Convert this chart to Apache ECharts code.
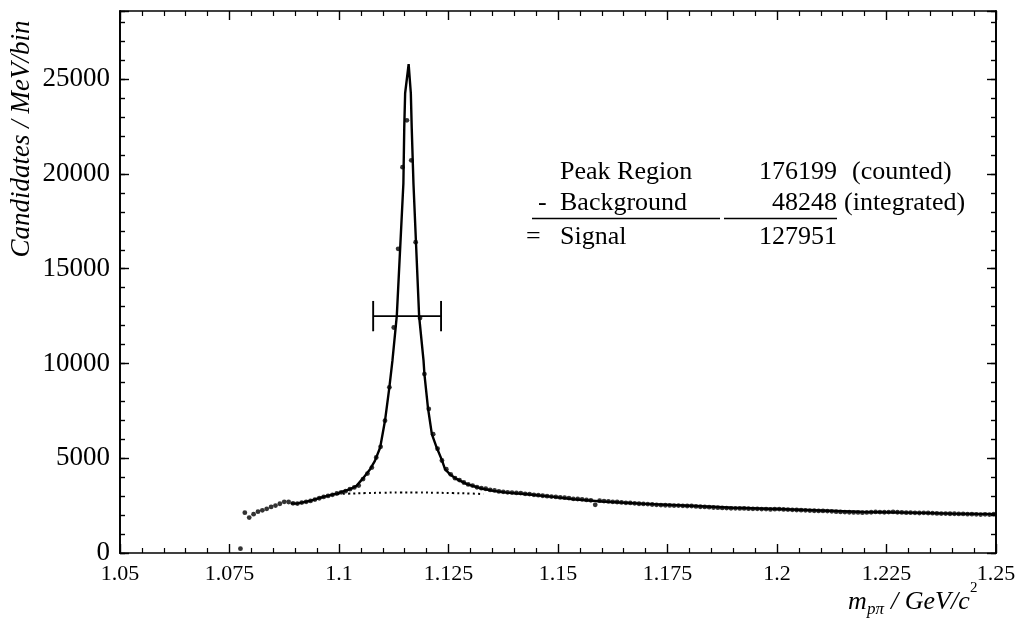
<!DOCTYPE html>
<html>
<head>
<meta charset="utf-8">
<script src="https://cdn.jsdelivr.net/npm/echarts@6/dist/echarts.min.js"></script>
<style>
html,body{margin:0;padding:0;background:#fff;}
#chart{width:1021px;height:627px;}
</style>
</head>
<body>
<div id="chart"></div>
<script>
// ---------- data ----------
const BIN_START = 1.0775;   // first bin centre, GeV/c^2
const BIN_WIDTH = 0.001;    // 1 MeV bins
const counts = [
  230,
  2130,1870,2050,2180,2250,2330,2430,2500,2600,2700,   // 1.0785 - 1.0875
  2690,2620,2610,2660,2700,2750,2820,2890,2960,3010,   // 1.0885 - 1.0975
  3070,3140,3200,3260,3370,3460,3560,3900,4190,4510,   // 1.0985 - 1.1075
  5040,5600,6980,8740,11900,16050,20360,22830,20720,16400, // 1.1085 - 1.1175
  12400,9440,7600,6270,5500,4880,4420,4150,3950,3850,  // 1.1185 - 1.1275
  3720,3620,3560,3470,3420,3390,3330,3300,3250,3230,   // 1.1285 - 1.1375
  3200,3190,3170,3160,3120,3110,3070,3050,3020,3000,   // 1.1385 - 1.1475
  2980,2960,2930,2920,2900,2860,2850,2830,2800,2780,   // 1.1485 - 1.1575
  2540,2760,2740,2720,2700,2690,2670,2650,2640,2620,   // 1.1585 - 1.1675
  2600,2590,2580,2560,2540,2530,2520,2510,2500,2500,   // 1.1685 - 1.1775
  2490,2480,2480,2460,2440,2430,2420,2400,2390,2380,   // 1.1785 - 1.1875
  2370,2360,2360,2350,2350,2340,2330,2330,2320,2320,   // 1.1885 - 1.1975
  2300,2310,2320,2300,2290,2280,2270,2260,2250,2240,   // 1.1985 - 1.2075
  2230,2220,2220,2210,2200,2180,2170,2160,2150,2140,   // 1.2085 - 1.2175
  2140,2130,2140,2150,2170,2160,2150,2160,2170,2150,   // 1.2185 - 1.2275
  2140,2130,2130,2120,2110,2120,2110,2100,2090,2080,   // 1.2285 - 1.2375
  2080,2070,2070,2060,2060,2050,2050,2040,2030,2040,   // 1.2385 - 1.2475
  2030,2050                                            // 1.2485 - 1.2495
];

// fitted curve (signal + background)
const fitMass  = [1.0890,1.0903,1.0934,1.0964,1.0995,1.1025,1.1040,1.1055,1.1071,1.1082,
                  1.1094,1.1105,1.1115,1.1122,1.1132,1.1147,1.1149,1.1151,1.1159,1.1164,
                  1.1166,1.1170,1.1183,1.1193,1.1195,1.1203,1.1212,1.1223,1.1235,1.1242,
                  1.1253,1.1269,1.1292,1.1322,1.1352,1.1383,1.1429,1.1489,1.1535,1.1600,
                  1.1700,1.1800,1.1900,1.2000,1.2100,1.2200,1.2300,1.2400,1.2500];
const fitValue = [2620,2606,2748,2960,3134,3366,3541,3950,4423,4862,
                  5565,6976,8736,10150,12525,19500,22460,24260,25800,24260,
                  22460,19500,12470,10150,9444,7679,6273,5565,4899,4423,
                  4159,3895,3631,3419,3277,3187,3102,2960,2838,2720,
                  2590,2490,2390,2320,2240,2160,2130,2080,2050];

// background under the peak (dotted)
const bgMass  = [1.0985,1.1020,1.1060,1.1100,1.1140,1.1180,1.1220,1.1260,1.1300,1.1330];
const bgValue = [3100,3130,3160,3180,3190,3190,3180,3160,3140,3110];

// peak-region bar
const barLeft = 1.1078, barRight = 1.1233, barLevel = 12500, barCapHalf = 800;

// axes
const X_MIN = 1.05, X_MAX = 1.25, X_STEP = 0.025;
const Y_MIN = 0, Y_MAX = 28600, Y_STEP = 5000, Y_MINOR = 1000;

// annotation table
const tableLabels = ['Peak Region', 'Background', 'Signal'];
const tableOps    = ['', '-', '='];
const tableValues = ['176199', '48248', '127951'];
const tableNotes  = ['(counted)', '(integrated)', ''];

// ---------- build ----------
const dataPts = counts.map((v, i) => [+(BIN_START + i * BIN_WIDTH).toFixed(4), v]);
const fitPts = fitMass.map((m, i) => [m, fitValue[i]]);
const bgPts = bgMass.map((m, i) => [m, bgValue[i]]);

const FONT = 'Liberation Serif';
const AX = { color: '#000', width: 1.7 };

function xAxisDef(pos, labels) {
  return {
    type: 'value', position: pos, min: X_MIN, max: X_MAX, interval: X_STEP,
    axisLine: { show: true, onZero: false, lineStyle: AX },
    axisTick: { show: true, inside: true, length: 9, lineStyle: { color: '#000', width: 1.4 } },
    minorTick: { show: true, splitNumber: 5, length: 5, lineStyle: { color: '#000', width: 1.2 } },
    splitLine: { show: false },
    axisLabel: labels ? {
      show: true, margin: 10, color: '#000', fontFamily: FONT, fontSize: 22,
      formatter: v => String(+(+v).toFixed(3))
    } : { show: false }
  };
}
function yAxisDef(pos, step, tickLen, labels) {
  return {
    type: 'value', position: pos, min: Y_MIN, max: Y_MAX, interval: step,
    axisLine: { show: true, onZero: false, lineStyle: AX },
    axisTick: { show: true, inside: true, length: tickLen, lineStyle: { color: '#000', width: 1.4 } },
    splitLine: { show: false },
    axisLabel: labels ? {
      show: true, margin: 10, color: '#000', fontFamily: FONT, fontSize: 27,
      formatter: v => (v % Y_STEP === 0 ? String(v) : '')
    } : { show: false }
  };
}

function txt(x, y, text, size, align, italic) {
  return {
    type: 'text', x: x, y: y, z: 100,
    style: {
      text: text, fill: '#000', fontFamily: FONT, fontSize: size,
      fontStyle: italic ? 'italic' : 'normal',
      textAlign: align, textVerticalAlign: 'middle'
    }
  };
}

const rowY = [172, 203, 237];
const graphics = [];
tableLabels.forEach((lab, i) => {
  if (tableOps[i]) graphics.push(txt(i === 2 ? 526 : 538, rowY[i], tableOps[i], 26, 'left'));
  graphics.push(txt(560, rowY[i], lab, 26, 'left'));
  graphics.push(txt(837, rowY[i], tableValues[i], 26, 'right'));
  if (tableNotes[i]) graphics.push(txt(i === 0 ? 852 : 844, rowY[i], tableNotes[i], 26, 'left'));
});
graphics.push({ type: 'line', z: 100, shape: { x1: 532, y1: 218.5, x2: 720, y2: 218.5 }, style: { stroke: '#000', lineWidth: 1.7 } });
graphics.push({ type: 'line', z: 100, shape: { x1: 724, y1: 218.5, x2: 837, y2: 218.5 }, style: { stroke: '#000', lineWidth: 1.7 } });
// axis titles
graphics.push({
  type: 'text', x: 22, y: 139, rotation: Math.PI / 2, z: 100,
  style: { text: 'Candidates / MeV/bin', fill: '#000', fontFamily: FONT, fontSize: 27,
           fontStyle: 'italic', textAlign: 'center', textVerticalAlign: 'middle' }
});
graphics.push(txt(848, 602, 'm', 26, 'left', true));
graphics.push(txt(867, 610, 'pπ', 17, 'left', true));
graphics.push(txt(891, 602, '/ GeV/c', 26, 'left', true));
graphics.push(txt(970, 588, '2', 15, 'left', false));

const option = {
  backgroundColor: '#fff',
  animation: false,
  grid: { left: 120, right: 25, top: 11, bottom: 74, containLabel: false },
  xAxis: [xAxisDef('bottom', true), xAxisDef('top', false)],
  yAxis: [
    yAxisDef('left', Y_STEP, 9, true),
    yAxisDef('left', Y_MINOR, 5, false),
    yAxisDef('right', Y_STEP, 9, false),
    yAxisDef('right', Y_MINOR, 5, false)
  ],
  graphic: graphics,
  series: [
    {
      type: 'line', data: fitPts, xAxisIndex: 0, yAxisIndex: 0,
      showSymbol: false, smooth: false,
      lineStyle: { color: '#000', width: 2.4 }, z: 3
    },
    {
      type: 'line', data: bgPts, xAxisIndex: 0, yAxisIndex: 0,
      showSymbol: false, smooth: true,
      lineStyle: { color: '#000', width: 2, type: [2, 3.2] }, z: 3
    },
    {
      type: 'scatter', data: dataPts, xAxisIndex: 0, yAxisIndex: 0,
      symbol: 'circle', symbolSize: 4.8, itemStyle: { color: '#000' }, z: 4
    },
    {
      type: 'line', data: [[barLeft, barLevel], [barRight, barLevel]],
      showSymbol: false, lineStyle: { color: '#000', width: 1.9 }, z: 5
    },
    {
      type: 'line', data: [[barLeft, barLevel - barCapHalf], [barLeft, barLevel + barCapHalf]],
      showSymbol: false, lineStyle: { color: '#000', width: 1.9 }, z: 5
    },
    {
      type: 'line', data: [[barRight, barLevel - barCapHalf], [barRight, barLevel + barCapHalf]],
      showSymbol: false, lineStyle: { color: '#000', width: 1.9 }, z: 5
    }
  ]
};

const chart = echarts.init(document.getElementById('chart'), null, { renderer: 'canvas' });
chart.setOption(option);
</script>
</body>
</html>
